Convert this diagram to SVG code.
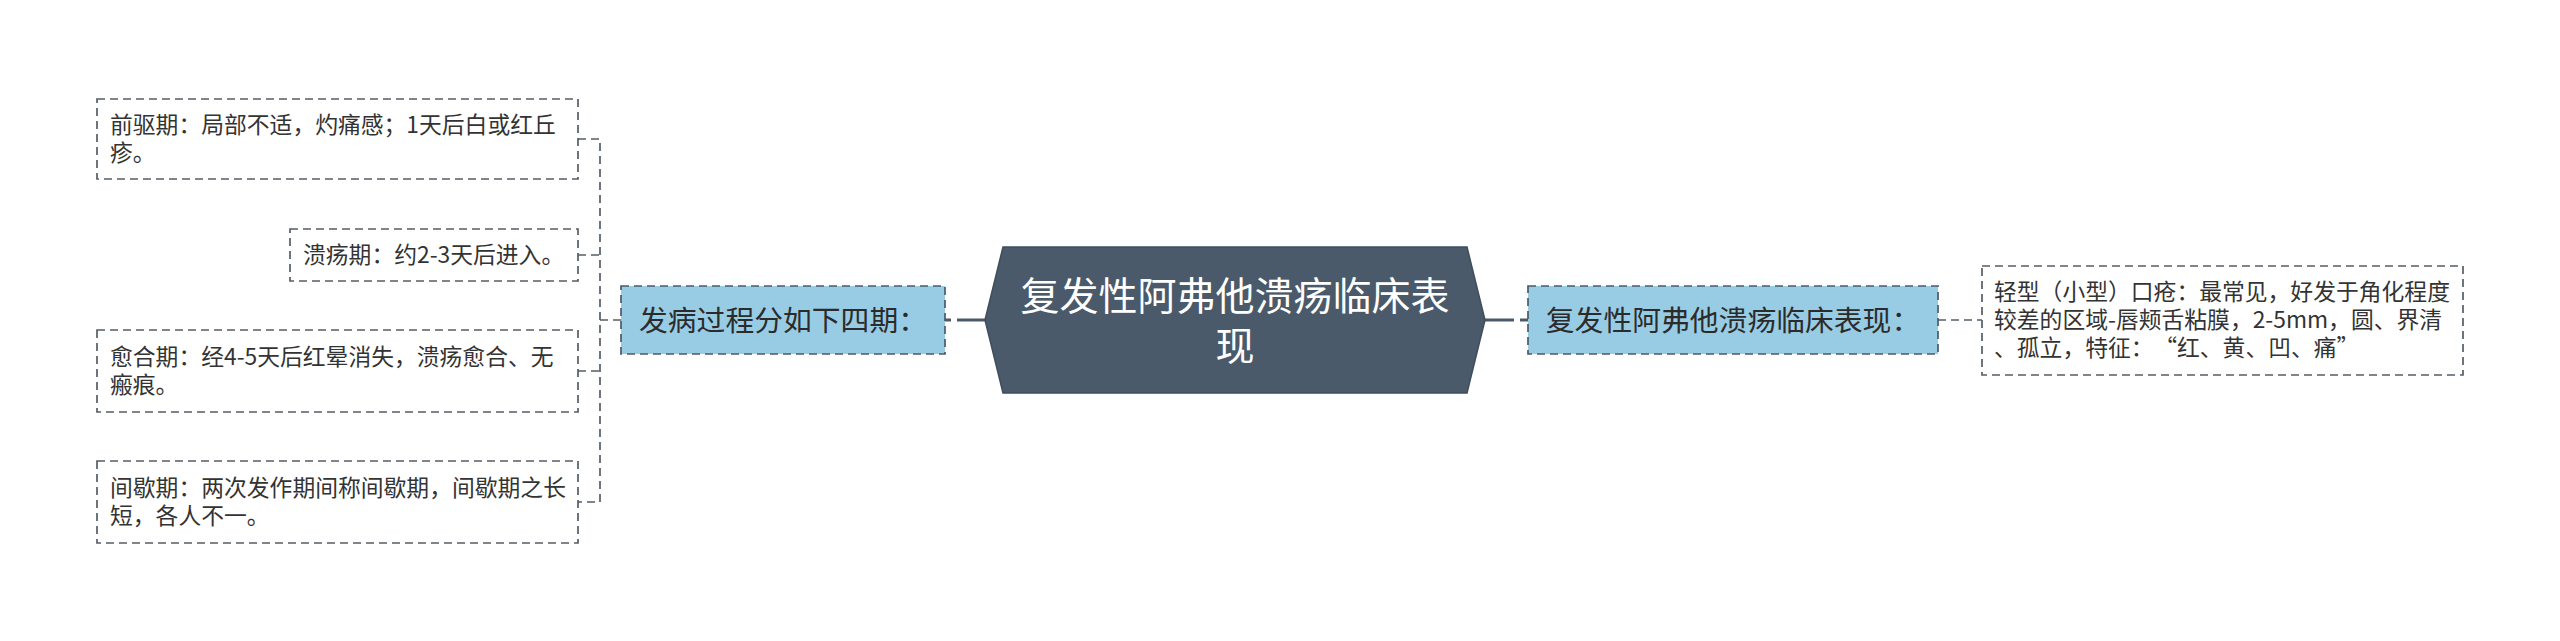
<svg xmlns="http://www.w3.org/2000/svg" width="2560" height="641" viewBox="0 0 2560 641">
<style>
text{font-family:"Noto Sans CJK SC","Noto Sans",sans-serif;}
.leaf{fill:#ffffff;stroke:#555d66;stroke-width:1.7;stroke-dasharray:8 5;}
.branch{fill:#98cce4;stroke:#4a5a6a;stroke-width:1.7;stroke-dasharray:8 5;}
.lt{font-size:22.8px;fill:#333333;}
.bt{font-size:28.8px;fill:#2b2b2b;text-anchor:middle;}
.ct{font-size:39px;fill:#ffffff;text-anchor:middle;}
.thin{fill:none;stroke:#555d66;stroke-width:1.7;stroke-dasharray:8 5;}
.thick{fill:none;stroke:#4a5a6a;stroke-width:3;stroke-dasharray:29 6 12;}
</style>
<rect width="2560" height="641" fill="#ffffff"/>
<g id="connectors">
<path class="thin" d="M578,139 H600 V502 H578"/>
<path class="thin" d="M578,255 H600"/>
<path class="thin" d="M578,371 H600"/>
<path class="thin" d="M600,320 H621"/>
<path class="thick" d="M986,320 H945"/>
<path class="thick" d="M1485,320 H1528"/>
<path class="thin" d="M1938,320 H1982"/>
</g>
<g id="center">
<path d="M985,320 L1003,247 H1467 L1485,320 L1467,393 H1003 Z" fill="#4a5a6a" stroke="#3f4e5c" stroke-width="1.5"/>
<text class="ct" x="1235" y="310">复发性阿弗他溃疡临床表<tspan x="1235" dy="50">现</tspan></text>
</g>
<g id="branch-left">
<rect class="branch" x="621" y="286" width="324" height="68"/>
<text class="bt" x="783" y="331">发病过程分如下四期：</text>
</g>
<g id="branch-right">
<rect class="branch" x="1528" y="286" width="410" height="68"/>
<text class="bt" x="1733" y="331">复发性阿弗他溃疡临床表现：</text>
</g>
<g id="leaf-1">
<rect class="leaf" x="97" y="99" width="481" height="80"/>
<text class="lt" x="110" y="133">前驱期：局部不适，灼痛感；1天后白或红丘</text>
<text class="lt" x="110" y="161">疹。</text>
</g>
<g id="leaf-2">
<rect class="leaf" x="290" y="229" width="288" height="52"/>
<text class="lt" x="303" y="263">溃疡期：约2-3天后进入。</text>
</g>
<g id="leaf-3">
<rect class="leaf" x="97" y="330" width="481" height="82"/>
<text class="lt" x="110" y="365">愈合期：经4-5天后红晕消失，溃疡愈合、无</text>
<text class="lt" x="110" y="393">瘢痕。</text>
</g>
<g id="leaf-4">
<rect class="leaf" x="97" y="461" width="481" height="82"/>
<text class="lt" x="110" y="496">间歇期：两次发作期间称间歇期，间歇期之长</text>
<text class="lt" x="110" y="524">短，各人不一。</text>
</g>
<g id="leaf-5">
<rect class="leaf" x="1982" y="266" width="481" height="109"/>
<text class="lt" x="1994" y="300">轻型（小型）口疮：最常见，好发于角化程度</text>
<text class="lt" x="1994" y="328">较差的区域-唇颊舌粘膜，2-5mm，圆、界清</text>
<text class="lt" x="1994" y="356">、孤立，特征：<tspan dx="12">“</tspan>红、黄、凹、痛”</text>
</g>
</svg>
